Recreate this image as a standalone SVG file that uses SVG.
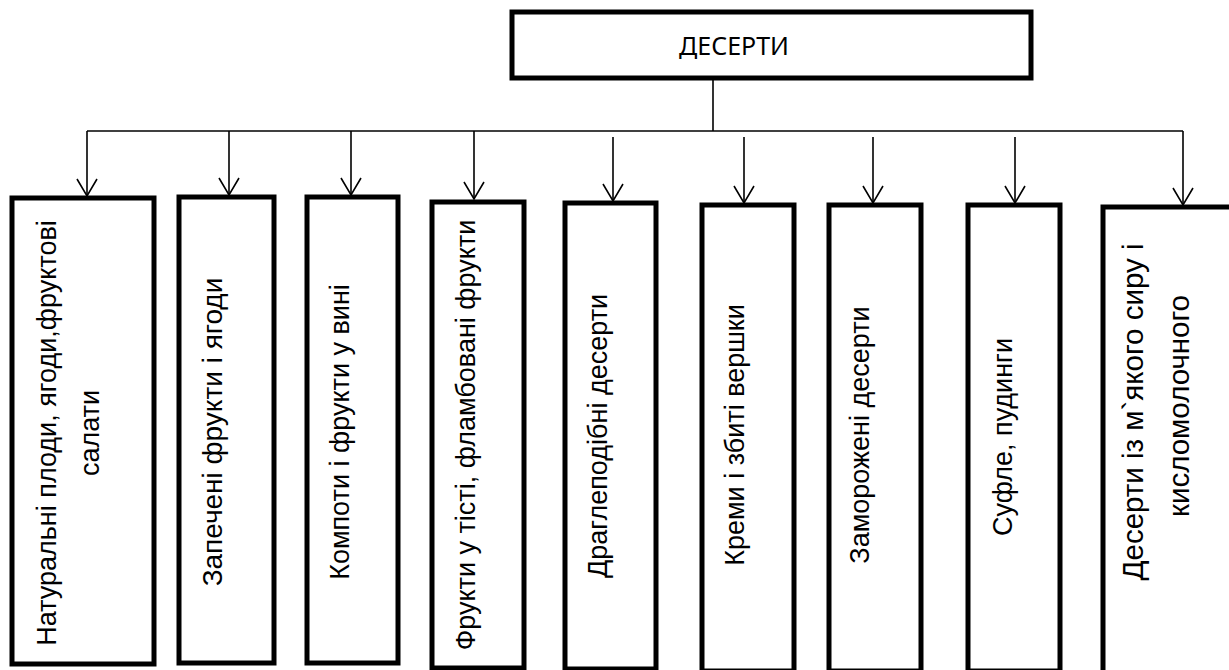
<svg xmlns="http://www.w3.org/2000/svg" width="1229" height="670" viewBox="0 0 1229 670">
<style>
.box{fill:#fff;stroke:#000;stroke-width:5}
.con{fill:none;stroke:#000;stroke-width:1.6}
.t{font-family:"Liberation Sans",Arial,sans-serif;font-size:27px;fill:#000;text-anchor:middle}
.title{font-family:"Noto Sans","Open Sans",sans-serif;font-size:25px;fill:#000;text-anchor:middle}
</style>
<defs>
<marker id="arr" markerUnits="userSpaceOnUse" viewBox="-20 -12 22 24" markerWidth="22" markerHeight="24" refX="0" refY="0" orient="auto" overflow="visible">
<path d="M-17,-10 L0,0 L-17,10" fill="none" stroke="#000" stroke-width="1.6"/>
</marker>
</defs>
<rect width="1229" height="670" fill="#fff"/>
<g id="connectors">
<line class="con" x1="713" y1="78" x2="713" y2="131"/>
<line class="con" x1="87" y1="131" x2="1183" y2="131"/>
<line class="con" x1="87" y1="131" x2="87" y2="196" marker-end="url(#arr)"/>
<line class="con" x1="229" y1="131" x2="229" y2="195" marker-end="url(#arr)"/>
<line class="con" x1="351" y1="131" x2="351" y2="195" marker-end="url(#arr)"/>
<line class="con" x1="474" y1="131" x2="474" y2="199" marker-end="url(#arr)"/>
<line class="con" x1="613" y1="137" x2="613" y2="201" marker-end="url(#arr)"/>
<line class="con" x1="744" y1="137" x2="744" y2="203" marker-end="url(#arr)"/>
<line class="con" x1="873" y1="137" x2="873" y2="203" marker-end="url(#arr)"/>
<line class="con" x1="1015" y1="137" x2="1015" y2="203" marker-end="url(#arr)"/>
<line class="con" x1="1183" y1="131" x2="1183" y2="205" marker-end="url(#arr)"/>
</g>
<g id="root">
<rect class="box" x="512" y="12" width="519" height="66"/>
<text class="title" x="734" y="55" textLength="110" lengthAdjust="spacingAndGlyphs">ДЕСЕРТИ</text>
</g>
<g id="n1">
<rect class="box" x="12" y="198" width="142" height="466"/>
<text class="t" transform="translate(47,433) rotate(-90)" dy="0.35em">Натуральні плоди, ягоди,фруктові</text>
<text class="t" transform="translate(90,433) rotate(-90)" dy="0.35em">салати</text>
</g>
<g id="n2">
<rect class="box" x="179" y="197" width="95" height="466"/>
<text class="t" transform="translate(212,432) rotate(-90)" dy="0.35em" style="font-size:28px">Запечені фрукти і ягоди</text>
</g>
<g id="n3">
<rect class="box" x="307" y="197" width="91" height="466"/>
<text class="t" transform="translate(340,432) rotate(-90)" dy="0.35em">Компоти і фрукти у вині</text>
</g>
<g id="n4">
<rect class="box" x="432" y="202" width="92" height="466"/>
<text class="t" transform="translate(466,435) rotate(-90)" dy="0.35em">Фрукти у тісті, фламбовані фрукти</text>
</g>
<g id="n5">
<rect class="box" x="565" y="203" width="91" height="466"/>
<text class="t" transform="translate(598,436) rotate(-90)" dy="0.35em">Драглеподібні десерти</text>
</g>
<g id="n6">
<rect class="box" x="702" y="205" width="92" height="466"/>
<text class="t" transform="translate(735,435) rotate(-90)" dy="0.35em">Креми і збиті вершки</text>
</g>
<g id="n7">
<rect class="box" x="829" y="205" width="92" height="466"/>
<text class="t" transform="translate(860,435) rotate(-90)" dy="0.35em">Заморожені десерти</text>
</g>
<g id="n8">
<rect class="box" x="968" y="205" width="92" height="466"/>
<text class="t" transform="translate(1003,437) rotate(-90)" dy="0.35em">Суфле,  пудинги</text>
</g>
<g id="n9">
<rect class="box" x="1103" y="207" width="140" height="480"/>
<text class="t" transform="translate(1133,412) rotate(-90)" dy="0.35em" style="font-size:29.5px">Десерти із м`якого сиру і</text>
<text class="t" transform="translate(1179,406) rotate(-90)" dy="0.35em" style="font-size:29.5px">кисломолочного</text>
</g>
</svg>
